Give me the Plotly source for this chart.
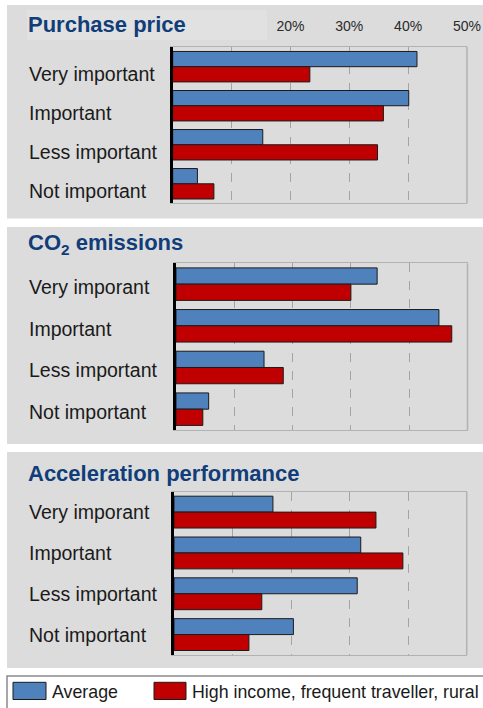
import plotly.graph_objects as go

W, H = 483, 708

# ---- data -------------------------------------------------------------
series_names = ["Average", "High income, frequent traveller, rural"]
series_colors = ["#4f81bd", "#c00000"]

price_levels = ["Very important", "Important", "Less important", "Not important"]
price_avg = [41.5, 40.1, 15.3, 4.2]
price_high = [23.3, 35.8, 34.8, 7.0]

co2_levels = ["Very imporant", "Important", "Less important", "Not important"]
co2_avg = [34.5, 45.1, 15.1, 5.6]
co2_high = [30.0, 47.3, 18.4, 4.6]

accel_levels = ["Very imporant", "Important", "Less important", "Not important"]
accel_avg = [16.9, 31.9, 31.3, 20.4]
accel_high = [34.5, 39.1, 15.0, 12.8]

panel_titles = ["Purchase price", "CO<sub>2</sub> emissions", "Acceleration performance"]

tick_vals = [20, 30, 40, 50]
tick_text = ["20%", "30%", "40%", "50%"]
minor_grid_vals = [10]
x_range = [0, 50]


# ---- helpers: pixel -> paper fractions --------------------------------
def fx(px):
    return px / W


def fy(py):
    return 1 - py / H


LABEL_FONT = "Liberation Sans, Arial, sans-serif"
TITLE_COLOR = "#113d79"
PANEL_BG = "#dcdcdc"
FRAME = "#b2b2b2"
GRID = "#a4a4a4"

panels = [
    dict(levels=price_levels, avg=price_avg, high=price_high, title=panel_titles[0],
         bg=(5, 218.5), plot_x=(172.7, 467.0), plot_y=(46.7, 203.3), title_y=24, label_shift=-7),
    dict(levels=co2_levels, avg=co2_avg, high=co2_high, title=panel_titles[1],
         bg=(227, 444), plot_x=(176.0, 467.5), plot_y=(263.3, 430.0), title_y=244, label_shift=-3),
    dict(levels=accel_levels, avg=accel_avg, high=accel_high, title=panel_titles[2],
         bg=(452, 668), plot_x=(174.0, 466.7), plot_y=(491.7, 655.0), title_y=473, label_shift=0),
]

fig = go.Figure()
shapes = []
annotations = []
layout = {}

for i, p in enumerate(panels):
    n = "" if i == 0 else str(i + 1)
    xa, ya = "x" + n, "y" + n

    # grey panel background (ends at the page edge)
    shapes.append(dict(type="rect", xref="paper", yref="paper",
                       x0=fx(7), x1=1, y0=fy(p["bg"][1]), y1=fy(p["bg"][0]),
                       fillcolor=PANEL_BG, line=dict(width=0), layer="below"))

    for vals, name, color in zip((p["avg"], p["high"]), series_names, series_colors):
        fig.add_trace(go.Bar(
            x=vals, y=p["levels"], name=name, orientation="h",
            marker=dict(color=color, line=dict(color="#1b1b1b", width=1)),
            xaxis=xa, yaxis=ya, showlegend=False,
        ))

    layout["xaxis" + n] = dict(
        domain=[fx(p["plot_x"][0]), fx(p["plot_x"][1])],
        anchor=ya, range=x_range, fixedrange=True,
        tickvals=tick_vals, ticktext=tick_text,
        showticklabels=(i == 0), side="top", ticks="",
        ticklabelstandoff=9, ticklabeloverflow="allow",
        tickfont=dict(family="Liberation Sans Narrow, Arial Narrow, Liberation Sans, sans-serif",
                      size=14, color="#2a2a2a"),
        showgrid=True, gridcolor=GRID, griddash="dash", gridwidth=1,
        minor=dict(tickvals=minor_grid_vals, showgrid=True, gridcolor=GRID,
                   griddash="dash", gridwidth=1, ticks=""),
        zeroline=False, showline=True, linecolor=FRAME, linewidth=1, mirror=True,
        automargin=False,
    )
    layout["yaxis" + n] = dict(
        domain=[fy(p["plot_y"][1]), fy(p["plot_y"][0])],
        anchor=xa, autorange="reversed", type="category",
        showticklabels=False, ticks="", showgrid=False, zeroline=False,
        showline=True, linecolor="#000000", linewidth=3, fixedrange=True,
        automargin=False,
    )

    # right frame edge
    shapes.append(dict(type="line", xref=xa + " domain", yref=ya + " domain",
                       x0=1, x1=1, y0=0, y1=1, line=dict(color=FRAME, width=1.5)))

    # left-aligned category labels
    for lvl in p["levels"]:
        annotations.append(dict(
            text=lvl, xref="paper", yref=ya, x=fx(27), y=lvl, xanchor="left",
            yanchor="middle", yshift=p["label_shift"], showarrow=False,
            font=dict(family=LABEL_FONT, size=19.5, color="#1a1a1a"),
        ))

    # panel title
    annotations.append(dict(
        text="<b>%s</b>" % p["title"], xref="paper", yref="paper",
        x=fx(26), y=fy(p["title_y"]), xanchor="left", yanchor="middle",
        showarrow=False, font=dict(family=LABEL_FONT, size=22, color=TITLE_COLOR),
    ))

# lighter box behind the first title
shapes.append(dict(type="rect", xref="paper", yref="paper",
                   x0=fx(27), x1=fx(267), y0=fy(40), y1=fy(10),
                   fillcolor="#e1e1e1", line=dict(width=0), layer="below"))

# ---- legend box -------------------------------------------------------
shapes.append(dict(type="rect", xref="paper", yref="paper",
                   x0=fx(7), x1=fx(486), y0=fy(712), y1=fy(676),
                   fillcolor="#ffffff", line=dict(color="#8a8a8a", width=1.5)))
legend_swatch_x = [(13, 46), (154, 186)]
legend_text_x = [50, 190]
for (sx0, sx1), tx, name, color in zip(legend_swatch_x, legend_text_x, series_names, series_colors):
    shapes.append(dict(type="rect", xref="paper", yref="paper",
                       x0=fx(sx0), x1=fx(sx1), y0=fy(699.5), y1=fy(682.3),
                       fillcolor=color, line=dict(color="#1b1b1b", width=1)))
    annotations.append(dict(
        text=name, xref="paper", yref="paper", x=fx(tx), y=fy(691.5),
        xanchor="left", yanchor="middle", showarrow=False,
        font=dict(family=LABEL_FONT, size=17.8, color="#1a1a1a"),
    ))

fig.update_layout(
    width=W, height=H,
    margin=dict(l=0, r=0, t=0, b=0, autoexpand=False),
    paper_bgcolor="#ffffff", plot_bgcolor="rgba(0,0,0,0)",
    barmode="group", bargap=0.22, bargroupgap=0,
    shapes=shapes, annotations=annotations,
    **layout,
)

fig.write_html("out.html", config={"displayModeBar": False})
